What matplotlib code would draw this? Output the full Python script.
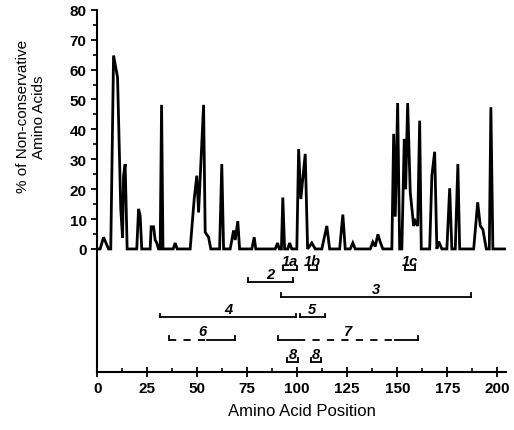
import matplotlib
matplotlib.use("Agg")
import matplotlib.pyplot as plt
from matplotlib.ticker import FixedLocator

plt.rcParams['font.family'] = ['Liberation Sans', 'DejaVu Sans']

# profile of non-conservative substitutions
position = [0, 1.5, 3.2, 5.7, 6.8, 8.2, 10.2, 11.8, 12.7, 13.2, 14, 15,
            19.8, 20.7, 21.5, 22.3, 26.5, 27, 28.2, 29, 29.8, 30.7, 31.5, 32.2, 32.9,
            38, 39, 40, 46.5, 48.5, 49.8, 50.7, 53.2, 54, 55.7, 56.8,
            61.2, 62.3, 63.2, 66.5, 68.2, 69, 70.3, 71.2, 77.3, 78.5, 79.3,
            89, 90.2, 91, 92.1, 92.8, 93.7, 95.3, 96.2, 97.3, 99.8, 100.7, 101.8, 104, 105.2,
            107.3, 109, 112.3, 114.8, 116.2, 121.2, 122.8, 124, 126.5, 127.8, 129,
            136.5, 137.8, 139, 140.3, 141.5, 142.8, 147.3, 148.2, 149, 150.2, 151.2,
            152.3, 153.5, 154.2, 155.2, 156.5, 158.2, 159, 160.2, 161.2, 162,
            166.2, 167.3, 168.7, 169.8, 170.7, 172.3, 174.8, 176.2, 177.3, 179, 180.3, 181.2,
            188.2, 190.2, 191.5, 192.8, 194.5, 196, 196.8, 197.8, 204]
percent = [0, 0, 3.9, 0, 0, 64.7, 57.4, 13.4, 3.7, 24.5, 28.4, 0,
           0, 13.4, 11.1, 0, 0, 7.4, 7.4, 3, 2, 0, 0, 48.2, 0,
           0, 2, 0, 0, 16.7, 24.5, 12.2, 48.2, 5.6, 3.9, 0,
           0, 28.4, 0, 0, 6.2, 3, 9.3, 0, 0, 3.9, 0,
           0, 2, 0, 0, 17.2, 0, 0, 2, 0, 0, 33.4, 16.7, 31.8, 0,
           2, 0, 0, 7.7, 0, 0, 11.5, 0, 0, 2, 0,
           0, 2.3, 0.8, 4.9, 2.3, 0, 0, 38.5, 10.8, 48.8, 0,
           0, 36.8, 20, 48.8, 18.9, 7.7, 9.3, 7.7, 42.9, 0,
           0, 24.5, 32.5, 0, 2.5, 0, 0, 20.3, 0, 0, 28.4, 0,
           0, 15.6, 7.7, 6.5, 0, 0, 47.4, 0, 0]

# fragments below the axis: label, start, end
frag_labels = ["1a", "1b", "1c", "2", "3", "4", "5", "6", "7", "8", "8"]
frag_start = [93, 105.7, 154, 75.2, 91.8, 31.2, 101.2, 36, 90.2, 95, 106.8]
frag_end = [100, 109.8, 159, 97.8, 187, 99.5, 113.7, 69, 160.3, 100.3, 111.8]
# dashed (uncertain) parts, only fragments 6 and 7 have them
dash_start = {"6": 36, "7": 100.5}
dash_end = {"6": 55, "7": 149}

x_ticks = [0, 25, 50, 75, 100, 125, 150, 175, 200]
y_ticks = [0, 10, 20, 30, 40, 50, 60, 70, 80]

row_y = {"1a": -6.9, "1b": -6.9, "1c": -6.9, "2": -11.1, "3": -16.2,
         "4": -22.9, "5": -22.9, "6": -30.3, "7": -30.3, "8": -37.9}

fig = plt.figure(figsize=(5.14, 4.31), dpi=100)
ax = fig.add_axes([0.189, 0.135, 0.796, 0.84])

ax.plot(position, percent, color="black", lw=2.0, solid_joinstyle="miter")

tick_h = 1.3
for lab, s, e in zip(frag_labels, frag_start, frag_end):
    y = row_y[lab]
    if lab in dash_start:
        ds, de = dash_start[lab], dash_end[lab]
        ax.plot([s, ds], [y, y], color="black", lw=1.3)
        ax.plot([ds, de], [y, y], color="black", lw=1.3, ls=(0, (4, 4)))
        ax.plot([de, e], [y, y], color="black", lw=1.3)
    else:
        ax.plot([s, e], [y, y], color="black", lw=1.3)
    ax.plot([s, s], [y, y + tick_h], color="black", lw=1.3)
    ax.plot([e, e], [y, y + tick_h], color="black", lw=1.3)
    ax.text((s + e) / 2, y + 0.4, lab, ha="center", va="bottom",
            fontsize=10.5, fontstyle="italic", fontweight="bold")

ax.set_xlim(0, 204.5)
ax.set_ylim(-41.1, 80)
ax.spines["top"].set_visible(False)
ax.spines["right"].set_visible(False)
ax.spines["left"].set_linewidth(1.5)
ax.spines["bottom"].set_linewidth(1.5)

ax.set_xticks(x_ticks)
ax.set_yticks(y_ticks)
ax.xaxis.set_minor_locator(FixedLocator([t + 12.5 for t in x_ticks]))
ax.yaxis.set_minor_locator(FixedLocator([t + 5 for t in y_ticks[:-1]]))
ax.tick_params(axis="x", which="major", direction="inout", length=7, width=1.3, labelsize=11, pad=3)
ax.tick_params(axis="x", which="minor", direction="in", length=3, width=1.2)
ax.tick_params(axis="y", which="major", direction="out", length=4, width=1.3, labelsize=11)
ax.tick_params(axis="y", which="minor", direction="out", length=3, width=1.2)
for t in ax.get_xticklabels() + ax.get_yticklabels():
    t.set_fontweight("bold")

ax.set_xlabel("Amino Acid Position", fontsize=12, labelpad=6)
ax.set_ylabel("% of Non-conservative\nAmino Acids", fontsize=11)
ax.yaxis.set_label_coords(-0.125, 0.707)

fig.savefig("out.png", dpi=100)
